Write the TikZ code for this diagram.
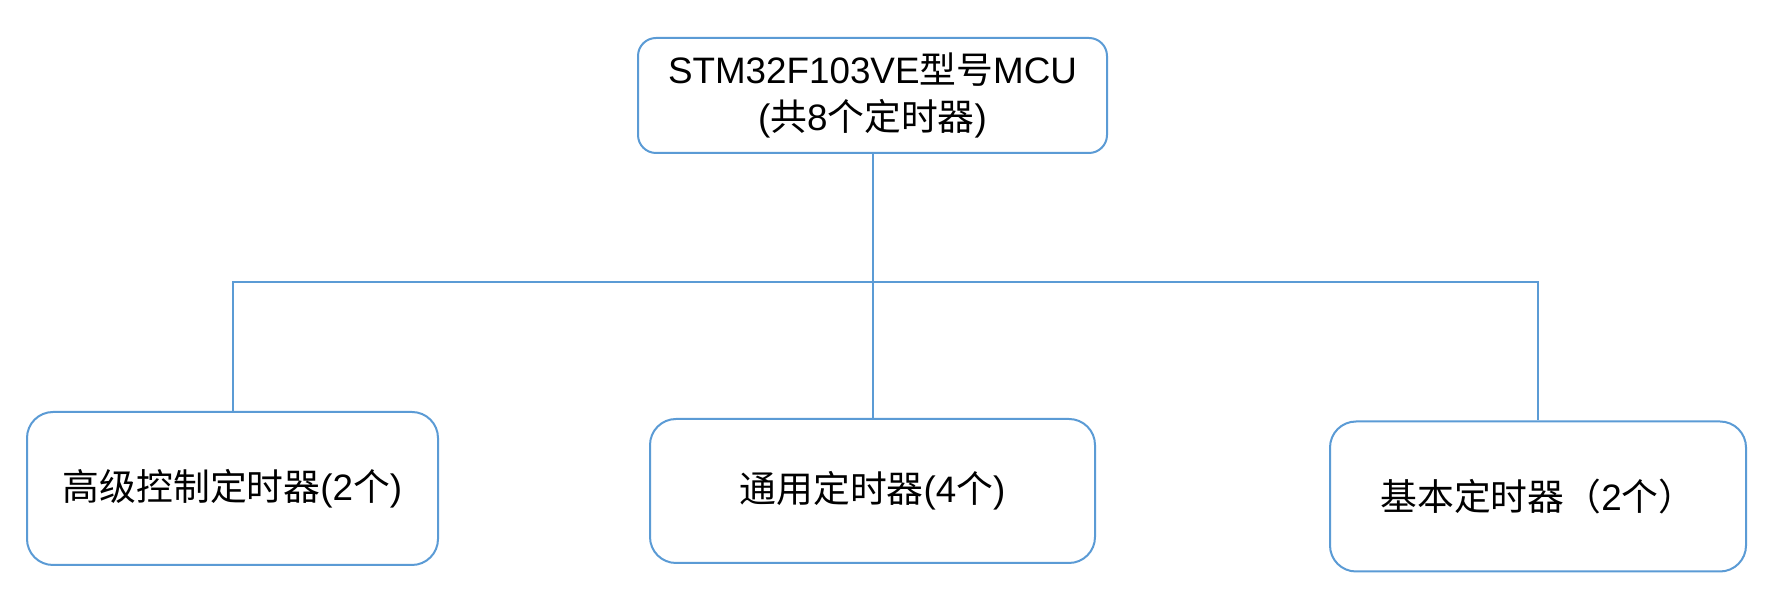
\documentclass[tikz,border=0pt]{standalone}
\usepackage{fontspec}
\setmainfont{Liberation Sans}
\newfontfamily\cjk{Noto Sans CJK SC}
\definecolor{boxblue}{RGB}{91,155,213}

\begin{document}
\begin{tikzpicture}[x=0.5pt,y=0.5pt,
    box/.style={draw=boxblue,line width=1pt,fill=white,rounded corners=13pt,
      align=center,inner sep=0pt,font=\fontsize{18.4}{23.5}\selectfont},
    link/.style={draw=boxblue,line width=1pt}]
    \useasboundingbox (0,0) rectangle (1766,609);
    % timers of the MCU
    \node[box,rounded corners=9pt,minimum width=234.5pt,minimum height=57.5pt] (mcu) at (872.5,513.5)
      {STM32F103VE{\cjk 型号}MCU\\({\cjk 共}8{\cjk 个定时器})};
    \node[box,minimum width=205.5pt,minimum height=76.5pt] (adv) at (232.5,120.5)
      {{\cjk 高级控制定时器}(2{\cjk 个})};
    \node[box,minimum width=222.5pt,minimum height=72pt] (gen) at (872.5,118)
      {{\cjk 通用定时器}(4{\cjk 个})};
    \node[box,minimum width=208pt,minimum height=75pt] (basic) at (1538,112.5)
      {{\cjk 基本定时器（}2{\cjk 个）}};
    \coordinate (bus) at (872.5,327);
    \draw[link]
      (mcu) -- (bus)
      (bus) -| (adv)
      (bus) -- (gen)
      (bus) -| (basic);
  \end{tikzpicture}
\end{document}
